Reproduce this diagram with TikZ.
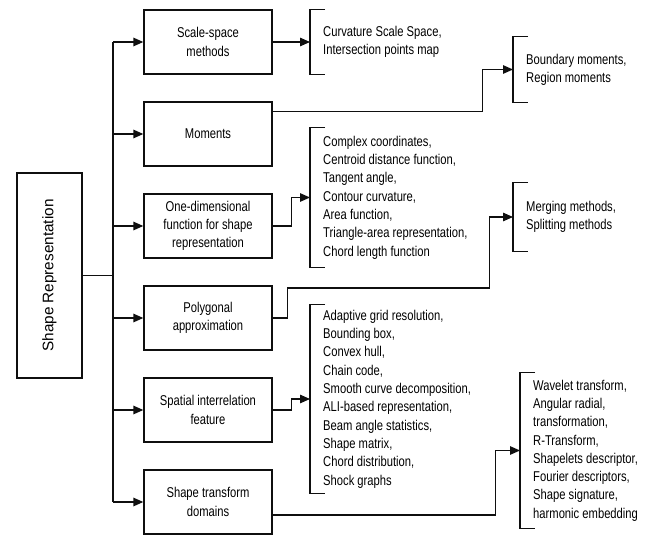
\documentclass[tikz,border=0pt]{standalone}
\usepackage{graphicx}
\usepackage{fontspec}
\setmainfont{Liberation Sans}[FakeStretch=0.79]
\newfontfamily\rootfont{Liberation Sans}
\usepackage{tikz}
\usetikzlibrary{arrows.meta, positioning, calc}
\definecolor{border}{RGB}{15, 15, 15}
\tikzstyle{rootbox} = [rectangle, minimum width=65pt, minimum height=205pt, draw=border, line width=1.3pt, font=\rootfont\fontsize{15.3pt}{18pt}\selectfont]
\tikzstyle{method} = [rectangle, minimum width=128pt, minimum height=64pt, align=center, draw=border, line width=1.3pt, font=\fontsize{14.2pt}{18.3pt}\selectfont]
\tikzstyle{group} = [anchor=west, align=left, inner xsep=13pt, inner ysep=0pt, font=\fontsize{14.2pt}{18.3pt}\selectfont]
\tikzstyle{line} = [line width=1.3pt, color=border]
\tikzstyle{arrow} = [line width=1.3pt, -{Triangle[length=10pt,width=8.5pt]}, color=border]

\begin{document}
\begin{tikzpicture}[x=1pt, y=-1pt, node distance=26.7pt]
    \clip (0,0) rectangle (649,535);
    % Nodes
    \node (root) [rootbox] at (49.5,275.5) {\rotatebox{90}{Shape Representation}};
    \node (scale) [method] at (208,42) {Scale-space\\methods};
    \node (moments) [method, below=of scale] {Moments};
    \node (onedim) [method, below=of moments] {One-dimensional\\function for shape\\representation};
    \node (poly) [method, below=of onedim] {Polygonal\\approximation};
    \node (spatial) [method, below=of poly] {Spatial interrelation\\feature};
    \node (transform) [method, below=of spatial] {Shape transform\\domains};
    \coordinate (trunk) at (113,0);

    % Groups of techniques
    \node (cssgrp) [group, minimum height=64pt] at (310,42) {Curvature Scale Space,\\Intersection points map};
    \node (momgrp) [group, minimum height=65pt] at (513,69.5) {Boundary moments,\\Region moments};
    \node (odfgrp) [group, minimum height=139pt] at (310,197.5) {Complex coordinates,\\Centroid distance function,\\Tangent angle,\\Contour curvature,\\Area function,\\Triangle-area representation,\\Chord length function};
    \node (polygrp) [group, minimum height=68pt] at (513,217) {Merging methods,\\Splitting methods};
    \node (spatgrp) [group, minimum height=188pt] at (310,399) {Adaptive grid resolution,\\Bounding box,\\Convex hull,\\Chain code,\\Smooth curve decomposition,\\ALI-based representation,\\Beam angle statistics,\\Shape matrix,\\Chord distribution,\\Shock graphs};
    \node (transgrp) [group, minimum height=155pt] at (520,450.5) {Wavelet transform,\\Angular radial,\\transformation,\\R-Transform,\\Shapelets descriptor,\\Fourier descriptors,\\Shape signature,\\harmonic embedding};

    % Brackets
    \foreach \g in {cssgrp, momgrp, odfgrp, polygrp, spatgrp, transgrp}
        \draw [line] ([xshift=15pt]\g.north west) -| (\g.south west) -- ([xshift=15pt]\g.south west);

    % Arrows
    \draw [line] (root.east) -- (root.east -| trunk);
    \draw [line] (scale.west -| trunk) -- (transform.west -| trunk);
    \foreach \b in {scale, moments, onedim, poly, spatial, transform}
        \draw [arrow] (\b.west -| trunk) -- (\b.west);

    \draw [arrow] (scale) -- (cssgrp.west);
    \draw [arrow] ([yshift=22.5pt]moments.east) -- ++(210,0) |- (momgrp.west);
    \draw [arrow] (onedim.east) -- ++(19,0) |- (odfgrp.west);
    \draw [arrow] (poly.east) -- ++(15,0) -- ++(0,-30) -- ++(202,0) |- (polygrp.west);
    \draw [arrow] (spatial.east) -- ++(19,0) |- (spatgrp.west);
    \draw [arrow] ([yshift=-13pt]transform.east) -- ++(223,0) |- (transgrp.west);
\end{tikzpicture}
\end{document}
